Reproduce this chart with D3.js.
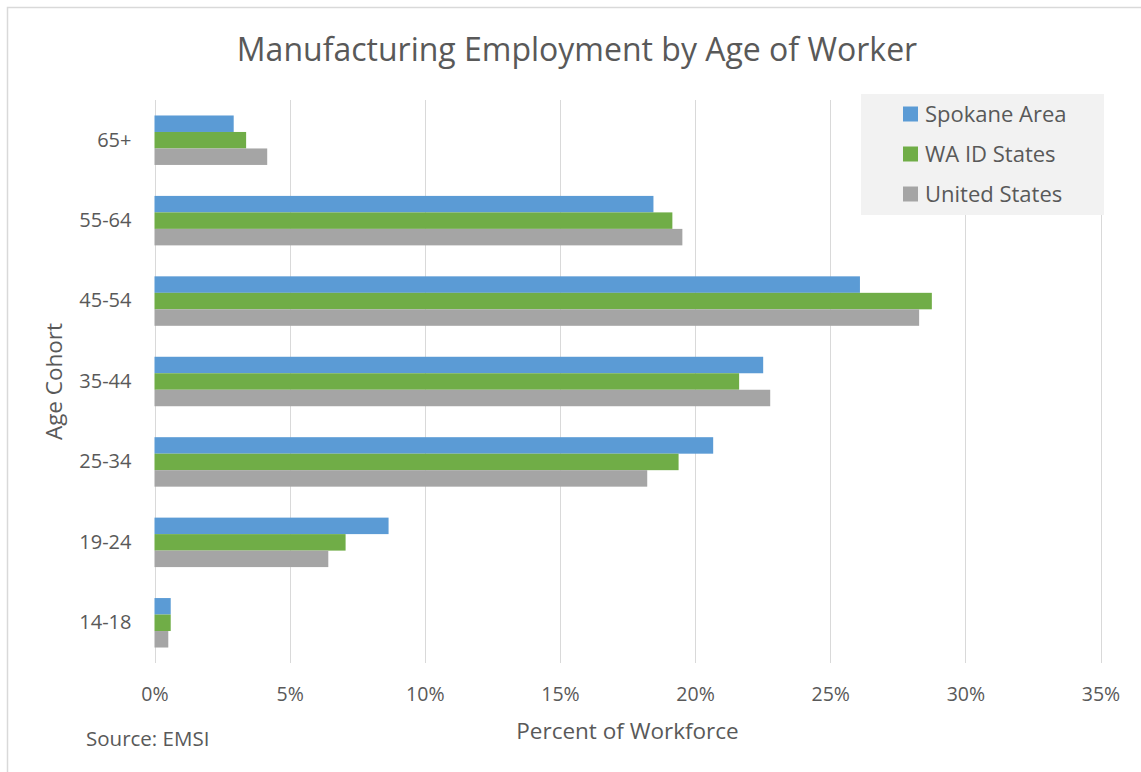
<!DOCTYPE html>
<html>
<head>
<meta charset="utf-8">
<script src="https://cdn.jsdelivr.net/npm/d3@7"></script>
<style>
  html, body { margin: 0; padding: 0; background: #ffffff; }
  svg { display: block; font-family: "Open Sans", "Noto Sans", sans-serif; }
</style>
</head>
<body>
<svg id="chart" width="1141" height="772"></svg>
<script>
// Age cohorts, listed top to bottom
const cohorts = ["65+", "55-64", "45-54", "35-44", "25-34", "19-24", "14-18"];
const seriesNames = ["Spokane Area", "WA ID States", "United States"];
const seriesColors = ["#5B9BD5", "#70AD47", "#A5A5A5"];

// Share of manufacturing workforce (%) per cohort
const spokaneArea  = [2.93, 18.46, 26.10, 22.52, 20.67, 8.66, 0.60];
const waIdStates   = [3.39, 19.16, 28.76, 21.63, 19.39, 7.07, 0.60];
const unitedStates = [4.17, 19.53, 28.29, 22.78, 18.23, 6.43, 0.51];
const seriesValues = [spokaneArea, waIdStates, unitedStates];

const xTicks = [0, 5, 10, 15, 20, 25, 30, 35];

const fontFamily = '"Open Sans", "Noto Sans", sans-serif';
const textColor = "#595959";
const svg = d3.select("#chart");

// Outer chart border
svg.append("rect")
  .attr("x", 7.5).attr("y", 7.5)
  .attr("width", 1160).attr("height", 800)
  .attr("fill", "#ffffff")
  .attr("stroke", "#d9d9d9").attr("stroke-width", 1.5);

const plot = { left: 154.5, right: 1100.5, top: 100, bottom: 663 };

const x = d3.scaleLinear().domain([0, 35]).range([plot.left, plot.right]);
const y = d3.scaleBand().domain(cohorts).range([plot.top, plot.bottom])
  .paddingInner(0.385).paddingOuter(0.1925);
const ySub = d3.scaleBand().domain(d3.range(seriesNames.length)).range([0, y.bandwidth()]);

// Vertical gridlines
svg.append("g")
  .selectAll("line")
  .data(xTicks)
  .join("line")
  .attr("x1", d => Math.round(x(d)) + 0.5)
  .attr("x2", d => Math.round(x(d)) + 0.5)
  .attr("y1", plot.top).attr("y2", plot.bottom)
  .attr("stroke", "#d9d9d9").attr("stroke-width", 1);

// Bars
const rows = svg.append("g")
  .selectAll("g")
  .data(cohorts)
  .join("g")
  .attr("transform", c => `translate(0,${y(c)})`);

rows.selectAll("rect")
  .data((c, i) => seriesValues.map((vals, s) => ({ s, v: vals[i] })))
  .join("rect")
  .attr("x", x(0))
  .attr("y", d => ySub(d.s))
  .attr("width", d => x(d.v) - x(0))
  .attr("height", ySub.bandwidth())
  .attr("fill", d => seriesColors[d.s]);

// X axis tick labels
const xAxis = d3.axisBottom(x).tickValues(xTicks).tickSize(0).tickPadding(0)
  .tickFormat(d => d + "%");
const gx = svg.append("g").attr("transform", `translate(0,${plot.bottom + 24})`).call(xAxis)
  .attr("font-family", fontFamily);
gx.select(".domain").remove();
gx.selectAll("text")
  .attr("fill", textColor).attr("font-size", 19.5).attr("dy", "0.71em");

// Y axis category labels
const yAxis = d3.axisLeft(y).tickSize(0).tickPadding(0);
const gy = svg.append("g").attr("transform", `translate(${plot.left - 23},0)`).call(yAxis)
  .attr("font-family", fontFamily);
gy.select(".domain").remove();
gy.selectAll("text")
  .attr("fill", textColor).attr("font-size", 20);

// Title
svg.append("text")
  .attr("x", 577).attr("y", 61)
  .attr("text-anchor", "middle")
  .attr("fill", textColor)
  .attr("font-size", 32)
  .text("Manufacturing Employment by Age of Worker");

// Axis titles
svg.append("text")
  .attr("x", (plot.left + plot.right) / 2).attr("y", 739)
  .attr("text-anchor", "middle")
  .attr("fill", textColor).attr("font-size", 22.5)
  .text("Percent of Workforce");

svg.append("text")
  .attr("transform", `translate(62,${(plot.top + plot.bottom) / 2}) rotate(-90)`)
  .attr("text-anchor", "middle")
  .attr("fill", textColor).attr("font-size", 22.5)
  .text("Age Cohort");

// Source note
svg.append("text")
  .attr("x", 86).attr("y", 746)
  .attr("fill", textColor).attr("font-size", 20.5)
  .text("Source: EMSI");

// Legend
const legend = svg.append("g");
legend.append("rect")
  .attr("x", 861).attr("y", 94)
  .attr("width", 243).attr("height", 121)
  .attr("fill", "#f2f2f2");

const legendItems = legend.selectAll("g.item")
  .data(seriesNames)
  .join("g")
  .attr("class", "item")
  .attr("transform", (d, i) => `translate(903,${114 + i * 40})`);

legendItems.append("rect")
  .attr("x", 0).attr("y", -7.5)
  .attr("width", 15).attr("height", 15)
  .attr("fill", (d, i) => seriesColors[i]);

legendItems.append("text")
  .attr("x", 22).attr("y", 0).attr("dy", "0.35em")
  .attr("fill", textColor).attr("font-size", 22)
  .text(d => d);
</script>
</body>
</html>
